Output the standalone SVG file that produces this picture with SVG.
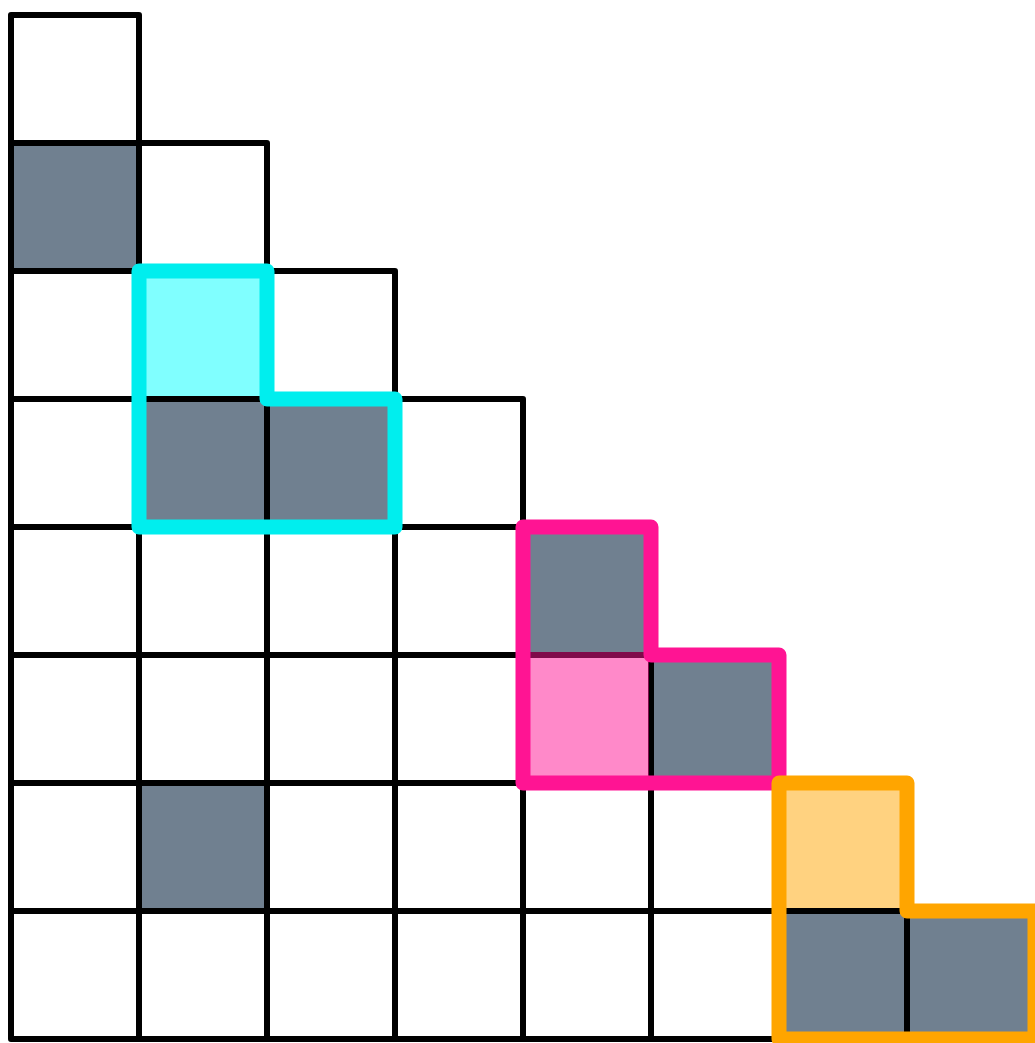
<svg xmlns="http://www.w3.org/2000/svg" width="1035" height="1043" viewBox="0 0 1035 1043">
<style>
.fill{stroke:none}
.gray{fill:#708090}
.cell{fill:none;stroke:#000;stroke-width:6;stroke-linejoin:round}
.hl{fill:none;stroke-width:15;stroke-linejoin:round}
</style>
<rect width="1035" height="1043" fill="#fff"/>
<g id="fills">
<rect class="fill gray" x="11" y="143" width="128" height="128"/>
<rect class="fill gray" x="139" y="399" width="128" height="128"/>
<rect class="fill gray" x="267" y="399" width="128" height="128"/>
<rect class="fill gray" x="523" y="527" width="128" height="128"/>
<rect class="fill gray" x="651" y="655" width="128" height="128"/>
<rect class="fill gray" x="139" y="783" width="128" height="128"/>
<rect class="fill gray" x="779" y="911" width="128" height="128"/>
<rect class="fill gray" x="907" y="911" width="128" height="128"/>
<rect class="fill" fill="#80FFFF" x="139" y="271" width="128" height="128"/>
<rect class="fill" fill="#FFD280" x="779" y="783" width="128" height="128"/>
</g>
<g id="grid">
<rect class="cell" x="11" y="15" width="128" height="128"/>
<rect class="cell" x="11" y="143" width="128" height="128"/><rect class="cell" x="139" y="143" width="128" height="128"/>
<rect class="cell" x="11" y="271" width="128" height="128"/><rect class="cell" x="139" y="271" width="128" height="128"/><rect class="cell" x="267" y="271" width="128" height="128"/>
<rect class="cell" x="11" y="399" width="128" height="128"/><rect class="cell" x="139" y="399" width="128" height="128"/><rect class="cell" x="267" y="399" width="128" height="128"/><rect class="cell" x="395" y="399" width="128" height="128"/>
<rect class="cell" x="11" y="527" width="128" height="128"/><rect class="cell" x="139" y="527" width="128" height="128"/><rect class="cell" x="267" y="527" width="128" height="128"/><rect class="cell" x="395" y="527" width="128" height="128"/><rect class="cell" x="523" y="527" width="128" height="128"/>
<rect class="cell" x="11" y="655" width="128" height="128"/><rect class="cell" x="139" y="655" width="128" height="128"/><rect class="cell" x="267" y="655" width="128" height="128"/><rect class="cell" x="395" y="655" width="128" height="128"/><rect class="cell" x="523" y="655" width="128" height="128"/><rect class="cell" x="651" y="655" width="128" height="128"/>
<rect class="cell" x="11" y="783" width="128" height="128"/><rect class="cell" x="139" y="783" width="128" height="128"/><rect class="cell" x="267" y="783" width="128" height="128"/><rect class="cell" x="395" y="783" width="128" height="128"/><rect class="cell" x="523" y="783" width="128" height="128"/><rect class="cell" x="651" y="783" width="128" height="128"/><rect class="cell" x="779" y="783" width="128" height="128"/>
<rect class="cell" x="11" y="911" width="128" height="128"/><rect class="cell" x="139" y="911" width="128" height="128"/><rect class="cell" x="267" y="911" width="128" height="128"/><rect class="cell" x="395" y="911" width="128" height="128"/><rect class="cell" x="523" y="911" width="128" height="128"/><rect class="cell" x="651" y="911" width="128" height="128"/><rect class="cell" x="779" y="911" width="128" height="128"/><rect class="cell" x="907" y="911" width="128" height="128"/>
</g>
<g id="overlay">
<rect fill="#FF1493" opacity="0.5" x="523" y="652" width="126" height="131"/>
</g>
<g id="highlights">
<path id="cyan" class="hl" stroke="#00EEEE" d="M139,271 H267 V399 H395 V527 H139 Z"/>
<path id="pink" class="hl" stroke="#FF1493" d="M523,527 H651 V655 H779 V783 H523 Z"/>
<path id="orange" class="hl" stroke="#FFA500" d="M779,783 H907 V911 H1035 V1039 H779 Z"/>
</g>
</svg>
